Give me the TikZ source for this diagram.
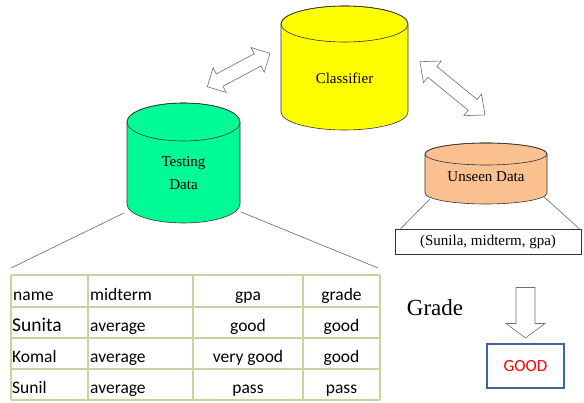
\documentclass[tikz,border=0pt]{standalone}
\usepackage{fontspec}
\setmainfont{Liberation Serif}
\newfontfamily\tablefont{Carlito}
\usetikzlibrary{calc}

\definecolor{clsyellow}{RGB}{255,255,0}
\definecolor{testgreen}{RGB}{0,250,150}
\definecolor{unseenpeach}{RGB}{250,192,144}
\definecolor{gridgreen}{RGB}{195,214,155}
\definecolor{boxblue}{RGB}{65,101,154}
\definecolor{goodred}{RGB}{255,0,0}
\definecolor{arrowgray}{RGB}{110,110,110}

% drum: centre x, top ellipse centre y, bottom ellipse centre y, rx, ry, fill
\newcommand\drumshape[6]{%
  \filldraw[drum, fill=#6] (#1-#4,#2) -- (#1-#4,#3)
    arc[start angle=180, end angle=360, x radius=#4pt, y radius=#5pt]
    -- (#1+#4,#2)
    arc[start angle=0, end angle=180, x radius=#4pt, y radius=#5pt] -- cycle;
  \draw[drum] (#1,#2) ellipse[x radius=#4pt, y radius=#5pt];
}

% hollow double-headed block arrow between two points:
% ends, head length, head half width, shaft half width
\newcommand\hollowdouble[5]{%
  \filldraw[blockarrow] (#1)
    -- ($(#1)!#3!(#2)!#4!90:(#2)$)
    -- ($(#1)!#3!(#2)!#5!90:(#2)$)
    -- ($(#2)!#3!(#1)!#5!-90:(#1)$)
    -- ($(#2)!#3!(#1)!#4!-90:(#1)$)
    -- (#2)
    -- ($(#2)!#3!(#1)!#4!90:(#1)$)
    -- ($(#2)!#3!(#1)!#5!90:(#1)$)
    -- ($(#1)!#3!(#2)!#5!-90:(#2)$)
    -- ($(#1)!#3!(#2)!#4!-90:(#2)$)
    -- cycle;
}

\begin{document}
\begin{tikzpicture}[x=1pt, y=1pt,
  drum/.style={draw=black!80, line width=0.6pt},
  blockarrow/.style={draw=arrowgray, fill=white, line width=0.6pt, line join=miter},
  seriflabel/.style={font=\fontsize{15}{23}\selectfont, align=center, inner sep=0pt},
  gridline/.style={draw=gridgreen, line width=1.4pt},
  fanline/.style={draw=black!60, line width=0.6pt},
  cell/.style={font=\tablefont\fontsize{17.5}{20}\selectfont, inner sep=0pt, anchor=base},
  cellw/.style={cell, anchor=base west},
]
\useasboundingbox (0,0) rectangle (584,403);

% drums
\drumshape{344.5}{379}{291}{63.5}{18}{clsyellow}
\drumshape{183.5}{281}{199}{56.5}{19}{testgreen}
\drumshape{486}{249}{210}{61}{11}{unseenpeach}

\node[seriflabel] (classifier) at (344.5,325) {Classifier};
\node[seriflabel] (testing) at (183.5,229.5) {Testing\\Data};
\node[seriflabel] (unseen) at (486,226) {Unseen Data};

% double arrows to the classifier
\coordinate (la) at (207.3,316.3);
\coordinate (lb) at (270,349.7);
\coordinate (ra) at (420,341.3);
\coordinate (rb) at (485,288);
\hollowdouble{la}{lb}{14pt}{14pt}{7pt}
\hollowdouble{ra}{rb}{16pt}{14pt}{7pt}

% unseen record box
\node[draw=black!80, line width=0.6pt, minimum width=186pt, minimum height=25pt,
      inner sep=0pt, font=\fontsize{15}{18}\selectfont] (query) at (488,161.5)
  {(Sunila, midterm, gpa)};
\coordinate (ul) at (430,204);
\coordinate (ur) at (544,206);
\draw[fanline] (ul) -- ($(query.north west)+(6,0)$);
\draw[fanline] (ur) -- ($(query.north east)+(-2,0)$);

% fan lines from testing data to the table
\coordinate (tl) at (124,190);
\coordinate (tr) at (241,191);
\coordinate (tabl) at (11,135);
\coordinate (tabr) at (378,135);
\draw[fanline] (tl) -- (tabl);
\draw[fanline] (tr) -- (tabr);

% table grid
\foreach \yy in {128,96,65,34,3} \draw[gridline] (11,\yy) -- (380,\yy);
\foreach \xx in {11,88,193,303,380} \draw[gridline] (\xx,128) -- (\xx,3);

% table cells
\node[cellw] (h1) at (13,102.5) {name};
\node[cellw] (h2) at (90,102.5) {midterm};
\node[cell]  (h3) at (248,102.5) {gpa};
\node[cell]  (h4) at (341.5,102.5) {grade};

\node[cellw, font=\tablefont\fontsize{19.5}{22}\selectfont] (r1a) at (12,71.5) {Sunita};
\node[cellw] (r1b) at (90,71.5) {average};
\node[cell]  (r1c) at (248,71.5) {good};
\node[cell]  (r1d) at (341.5,71.5) {good};

\node[cellw] (r2a) at (12,40.5) {Komal};
\node[cellw] (r2b) at (90,40.5) {average};
\node[cell]  (r2c) at (248,40.5) {very good};
\node[cell]  (r2d) at (341.5,40.5) {good};

\node[cellw] (r3a) at (12,9.5) {Sunil};
\node[cellw] (r3b) at (90,9.5) {average};
\node[cell]  (r3c) at (248,9.5) {pass};
\node[cell]  (r3d) at (341.5,9.5) {pass};

% prediction
\node[font=\fontsize{23}{26}\selectfont, inner sep=0pt] (grade) at (435,95) {Grade};
\node[draw=boxblue, line width=1.5pt, minimum width=77pt, minimum height=44pt,
      inner sep=0pt, text=goodred, font=\tablefont\fontsize{17}{20}\selectfont]
  (good) at (525.5,37) {GOOD};
\filldraw[blockarrow] (516,115.5) -- (535,115.5) -- (535,79.5) -- (545,79.5) -- (525.5,65)
  -- (506,79.5) -- (516,79.5) -- cycle;
\end{tikzpicture}
\end{document}
